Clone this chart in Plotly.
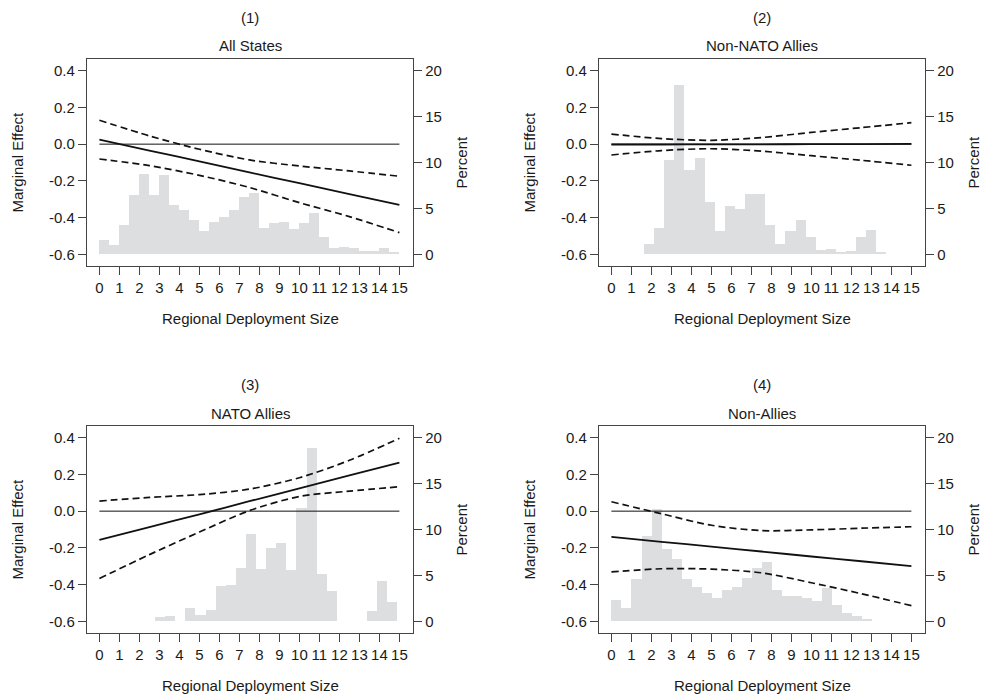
import plotly.graph_objects as go

# ---------------- data ----------------
panel_numbers = ["(1)", "(2)", "(3)", "(4)"]
panel_titles = ["All States", "Non-NATO Allies", "NATO Allies", "Non-Allies"]

x_grid = [0, 2.5, 5, 7.5, 10, 12.5, 15]
ref_x = [0, 15]
ref_y = [0, 0]

me_1 = [0.024, -0.035, -0.094, -0.154, -0.213, -0.272, -0.331]
upper_1 = [0.130, 0.045, -0.028, -0.086, -0.119, -0.146, -0.175]
lower_1 = [-0.081, -0.117, -0.170, -0.236, -0.319, -0.395, -0.482]

me_2 = [-0.002, -0.002, -0.001, -0.001, 0.000, 0.000, 0.001]
upper_2 = [0.055, 0.030, 0.021, 0.036, 0.064, 0.090, 0.117]
lower_2 = [-0.059, -0.035, -0.025, -0.038, -0.063, -0.088, -0.115]

me_3 = [-0.157, -0.087, -0.017, 0.054, 0.124, 0.195, 0.265]
upper_3 = [0.055, 0.075, 0.090, 0.120, 0.182, 0.277, 0.397]
lower_3 = [-0.367, -0.237, -0.114, 0.003, 0.080, 0.109, 0.133]

me_4 = [-0.140, -0.167, -0.193, -0.220, -0.247, -0.273, -0.300]
upper_4 = [0.051, -0.014, -0.077, -0.106, -0.102, -0.093, -0.085]
lower_4 = [-0.331, -0.314, -0.316, -0.336, -0.390, -0.450, -0.515]

# histogram bins (percent), start of first bin and bin width
hist_start = [0.0, 1.63, 2.78, 0.0]
hist_width = [0.5, 0.505, 0.505, 0.502]
hist_1 = [1.6, 1.0, 3.2, 6.5, 8.7, 6.5, 8.6, 5.4, 4.8, 3.7, 2.5, 3.5, 4.1, 4.8, 6.2,
          6.7, 2.9, 3.4, 3.5, 2.8, 3.4, 4.5, 1.9, 0.7, 0.8, 0.65, 0.33, 0.33, 0.7, 0.22]
hist_2 = [1.16, 2.83, 10.3, 18.5, 9.2, 10.5, 5.7, 2.5, 5.3, 4.9, 6.6, 6.6, 3.2, 1.16,
          2.5, 3.7, 1.9, 0.44, 0.58, 0.25, 0.33, 1.9, 2.6, 0.25]
hist_3 = [0.43, 0.57, 0, 1.4, 0.68, 1.26, 3.85, 4.0, 5.8, 9.56, 5.66, 8.0, 8.5, 5.55,
          12.3, 18.9, 5.1, 3.3, 0, 0, 0, 1.1, 4.4, 2.1]
hist_4 = [2.34, 1.4, 4.65, 9.3, 12.2, 7.9, 6.75, 4.65, 3.7, 3.1, 2.55, 3.4, 3.7, 4.7,
          5.85, 6.5, 3.4, 2.7, 2.7, 2.5, 2.2, 3.6, 1.76, 0.9, 0.57, 0.3]

me_ticks = [-0.6, -0.4, -0.2, 0.0, 0.2, 0.4]
me_ticktext = ["-0.6", "-0.4", "-0.2", "0.0", "0.2", "0.4"]
pct_ticks = [0, 5, 10, 15, 20]
x_ticks = list(range(16))

mes = [me_1, me_2, me_3, me_4]
uppers = [upper_1, upper_2, upper_3, upper_4]
lowers = [lower_1, lower_2, lower_3, lower_4]
hists = [hist_1, hist_2, hist_3, hist_4]

# ---------------- layout geometry ----------------
PAGE_W, PAGE_H = 990, 698
OFF = 8  # default body margin of the html page
W, H = PAGE_W - OFF, PAGE_H - OFF
FONT = "Liberation Sans, Arial, Helvetica, sans-serif"
FS = 15
TXT = "#1a1a1a"
AX = "#444444"
GRAY = "#dddee0"

box_x = [(87, 413), (599, 925), (87, 413), (599, 925)]
box_y = [(59, 266), (59, 266), (426, 633), (426, 633)]

me_range = [-0.664, 0.464]
pct_range = [(me_range[0] + 0.6) * 20, (me_range[1] + 0.6) * 20]
x_range = [-0.62, 15.68]

fig = go.Figure()
layout = dict(
    width=W, height=H,
    margin=dict(l=0, r=0, t=0, b=0),
    paper_bgcolor="white", plot_bgcolor="white",
    showlegend=False,
    font=dict(family=FONT, size=FS, color=TXT),
    bargap=0,
)
annotations = []


def px(x):
    return (x - OFF) / W


def py(y):
    return 1 - (y - OFF) / H


for i in range(4):
    n = i + 1
    xa = "x" if n == 1 else f"x{n}"
    ya_pct = "y" if n == 1 else f"y{n}"
    ya_me = f"y{n + 4}"
    x0, x1 = box_x[i]
    y0, y1 = box_y[i]
    xdom = [px(x0), px(x1)]
    ydom = [py(y1), py(y0)]

    centers = [hist_start[i] + hist_width[i] * (k + 0.5) for k in range(len(hists[i]))]
    fig.add_trace(go.Bar(x=centers, y=hists[i], width=hist_width[i],
                         marker=dict(color=GRAY, line=dict(width=0)),
                         xaxis=xa, yaxis=ya_pct, hoverinfo="skip"))
    fig.add_trace(go.Scatter(x=ref_x, y=ref_y, mode="lines",
                             line=dict(color="#111111", width=1),
                             xaxis=xa, yaxis=ya_me))
    for arr, dash, wd in [(uppers[i], "7px,4px", 1.7), (lowers[i], "7px,4px", 1.7),
                          (mes[i], "solid", 1.8)]:
        fig.add_trace(go.Scatter(x=x_grid, y=arr, mode="lines",
                                 line=dict(color="#111111", width=wd, dash=dash,
                                           shape="spline", smoothing=0.8),
                                 xaxis=xa, yaxis=ya_me))

    xkey = "xaxis" if n == 1 else f"xaxis{n}"
    ykey_pct = "yaxis" if n == 1 else f"yaxis{n}"
    ykey_me = f"yaxis{n + 4}"
    layout[xkey] = dict(domain=xdom, anchor=ya_pct, range=x_range,
                        tickvals=x_ticks, ticks="outside", ticklen=8, tickwidth=1.2,
                        tickcolor=AX, showline=True, linecolor=AX, linewidth=1.4,
                        mirror=True, showgrid=False, zeroline=False,
                        tickfont=dict(size=FS, color=TXT, family=FONT))
    layout[ykey_pct] = dict(domain=ydom, anchor=xa, side="right", range=pct_range,
                            tickvals=pct_ticks, ticks="outside", ticklen=8,
                            tickwidth=1.2, tickcolor=AX, showline=True,
                            linecolor=AX, linewidth=1.4, showgrid=False,
                            zeroline=False,
                            tickfont=dict(size=FS, color=TXT, family=FONT))
    layout[ykey_me] = dict(domain=ydom, anchor=xa, overlaying=ya_pct, side="left",
                           range=me_range, tickvals=me_ticks, ticktext=me_ticktext,
                           ticks="outside", ticklen=8, tickwidth=1.2, tickcolor=AX,
                           showline=True, linecolor=AX, linewidth=1.4,
                           showgrid=False, zeroline=False,
                           tickfont=dict(size=FS, color=TXT, family=FONT))

    cx = (x0 + x1) / 2
    annotations.append(dict(text=panel_numbers[i], x=px(cx), y=py(y0 - 42),
                            xref="paper", yref="paper", showarrow=False,
                            xanchor="center", yanchor="middle",
                            font=dict(size=FS, color=TXT, family=FONT)))
    annotations.append(dict(text=panel_titles[i], x=px(cx), y=py(y0 - 13),
                            xref="paper", yref="paper", showarrow=False,
                            xanchor="center", yanchor="middle",
                            font=dict(size=FS, color=TXT, family=FONT)))
    annotations.append(dict(text="Regional Deployment Size", x=px(cx), y=py(y1 + 52),
                            xref="paper", yref="paper", showarrow=False,
                            xanchor="center", yanchor="middle",
                            font=dict(size=FS, color=TXT, family=FONT)))
    cy = (y0 + y1) / 2
    annotations.append(dict(text="Marginal Effect", x=px(x0 - 70), y=py(cy),
                            xref="paper", yref="paper", showarrow=False,
                            textangle=-90, xanchor="center", yanchor="middle",
                            font=dict(size=FS, color=TXT, family=FONT)))
    annotations.append(dict(text="Percent", x=px(x1 + 48), y=py(cy),
                            xref="paper", yref="paper", showarrow=False,
                            textangle=-90, xanchor="center", yanchor="middle",
                            font=dict(size=FS, color=TXT, family=FONT)))

layout["annotations"] = annotations
fig.update_layout(**layout)
fig.write_html("out.html")
